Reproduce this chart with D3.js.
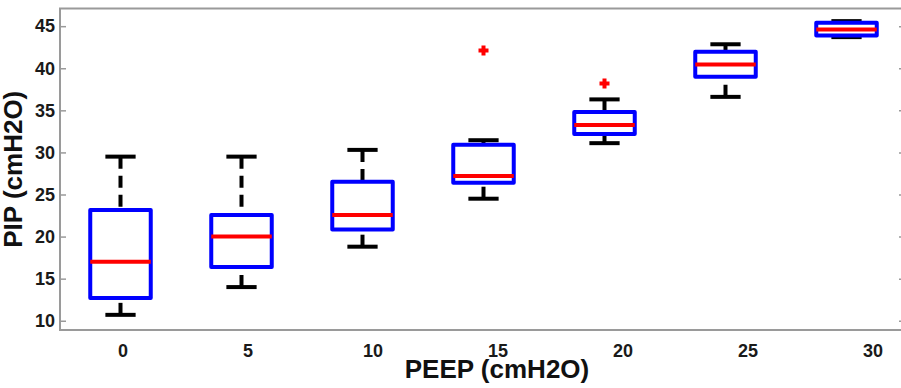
<!DOCTYPE html>
<html>
<head>
<meta charset="utf-8">
<script src="https://cdn.jsdelivr.net/npm/d3@7"></script>
<style>
  html, body { margin: 0; padding: 0; background: #fff; }
  svg { display: block; font-family: "Liberation Sans", Arial, Helvetica, sans-serif; }
</style>
</head>
<body>
<svg id="chart"></svg>
<script>
// PIP boxplots per PEEP level
const peep = [0, 5, 10, 15, 20, 25, 30];
const whiskerLow = [10.7, 14.0, 18.8, 24.5, 31.1, 36.6, 43.7];
const q1 = [12.7, 16.4, 20.85, 26.4, 32.2, 39.0, 43.9];
const median = [17.0, 20.0, 22.55, 27.2, 33.25, 40.45, 44.6];
const q3 = [23.15, 22.55, 26.5, 30.9, 34.8, 41.95, 45.4];
const whiskerHigh = [29.5, 29.5, 30.3, 31.45, 36.3, 42.85, 45.6];
const outlierPeep = [15, 20];
const outlierValue = [42.1, 38.2];
const yTicks = [10, 15, 20, 25, 30, 35, 40, 45];

const chartDimensions = () => {
  let dimensions = {
    svgWidth: 901,
    svgHeight: 388,
    margin: {top: 8.5, left: 60, bottom: 58, right: -6}
  };
  dimensions.width = dimensions.svgWidth - dimensions.margin.left - dimensions.margin.right;
  dimensions.height = dimensions.svgHeight - dimensions.margin.top - dimensions.margin.bottom;
  return dimensions;
}
const dim = chartDimensions();

const boxes = peep.map((p, i) => ({
  peep: p, lo: whiskerLow[i], q1: q1[i], med: median[i], q3: q3[i], hi: whiskerHigh[i]
}));

const svg = d3.select("#chart")
  .attr("width", dim.svgWidth)
  .attr("height", dim.svgHeight);

const x = d3.scaleBand()
  .domain(peep)
  .range([0, dim.width])
  .paddingInner(0.5)
  .paddingOuter(0.25);

// the category labels sit on their own slightly wider spacing in the figure
const xLabel = d3.scalePoint()
  .domain(peep)
  .range([63, 813]);

const y = d3.scaleLinear()
  .domain([8.9, 47.1])
  .range([dim.height, 0]);

const g = svg.append("g")
  .attr("transform", `translate(${dim.margin.left}, ${dim.margin.top})`);

// frame
g.append("rect")
  .attr("width", dim.width)
  .attr("height", dim.height)
  .attr("fill", "none")
  .attr("stroke", "#9a9a9a")
  .attr("stroke-width", 2);

// y axis left, ticks inward
const yAxis = g.append("g")
  .call(d3.axisRight(y).tickValues(yTicks).tickSize(6).tickFormat(""));
yAxis.select(".domain").remove();
yAxis.selectAll("line").attr("stroke", "#9a9a9a").attr("stroke-width", 1.5);

yAxis.selectAll(".ytl")
  .data(yTicks)
  .join("text")
  .attr("class", "ytl")
  .attr("x", -5)
  .attr("y", d => y(d))
  .attr("dy", "0.35em")
  .attr("text-anchor", "end")
  .attr("font-size", 18)
  .attr("font-weight", "bold")
  .attr("fill", "#1a1a1a")
  .text(d => d);

// right side ticks
const yAxisR = g.append("g")
  .attr("transform", `translate(${dim.width}, 0)`)
  .call(d3.axisLeft(y).tickValues(yTicks).tickSize(8).tickFormat(""));
yAxisR.select(".domain").remove();
yAxisR.selectAll("line").attr("stroke", "#9a9a9a").attr("stroke-width", 1.5);

// x labels (no ticks, boxplot style)
g.append("g").selectAll("text")
  .data(peep)
  .join("text")
  .attr("x", d => xLabel(d))
  .attr("y", dim.height + 27)
  .attr("text-anchor", "middle")
  .attr("font-size", 18)
  .attr("font-weight", "bold")
  .attr("fill", "#1a1a1a")
  .text(d => d);

const cx = d => x(d.peep) + x.bandwidth() / 2;
const capW = x.bandwidth() / 4;

const bg = g.append("g");

// whiskers
bg.selectAll(".wUp")
  .data(boxes)
  .join("line")
  .attr("class", "wUp")
  .attr("x1", cx).attr("x2", cx)
  .attr("y1", d => y(d.hi)).attr("y2", d => y(d.q3))
  .attr("stroke", "#000")
  .attr("stroke-width", 4)
  .attr("stroke-dasharray", "12,7");

bg.selectAll(".wLo")
  .data(boxes)
  .join("line")
  .attr("class", "wLo")
  .attr("x1", cx).attr("x2", cx)
  .attr("y1", d => y(d.lo)).attr("y2", d => y(d.q1))
  .attr("stroke", "#000")
  .attr("stroke-width", 4)
  .attr("stroke-dasharray", "12,7");

// caps
bg.selectAll(".cap")
  .data(boxes.flatMap(d => [{b: d, v: d.hi}, {b: d, v: d.lo}]))
  .join("line")
  .attr("class", "cap")
  .attr("x1", d => cx(d.b) - capW).attr("x2", d => cx(d.b) + capW)
  .attr("y1", d => y(d.v)).attr("y2", d => y(d.v))
  .attr("stroke", "#000")
  .attr("stroke-width", 4);

// boxes
bg.selectAll(".box")
  .data(boxes)
  .join("rect")
  .attr("class", "box")
  .attr("x", d => x(d.peep))
  .attr("width", x.bandwidth())
  .attr("y", d => y(d.q3))
  .attr("height", d => y(d.q1) - y(d.q3))
  .attr("fill", "none")
  .attr("stroke", "#0000ff")
  .attr("stroke-width", 4)
  .attr("stroke-linejoin", "round");

// medians
bg.selectAll(".med")
  .data(boxes)
  .join("line")
  .attr("class", "med")
  .attr("x1", d => x(d.peep)).attr("x2", d => x(d.peep) + x.bandwidth())
  .attr("y1", d => y(d.med)).attr("y2", d => y(d.med))
  .attr("stroke", "#ff0000")
  .attr("stroke-width", 4);

// outliers as '+'
bg.selectAll(".out")
  .data(outlierPeep.map((p, i) => ({peep: p, v: outlierValue[i]})))
  .join("path")
  .attr("class", "out")
  .attr("transform", d => `translate(${cx(d)}, ${y(d.v)})`)
  .attr("d", "M-5,0H5M0,-5V5")
  .attr("fill", "none")
  .attr("stroke", "#ff0000")
  .attr("stroke-width", 4);

// axis titles
svg.append("text")
  .attr("x", 497)
  .attr("y", 378)
  .attr("text-anchor", "middle")
  .attr("font-size", 26)
  .attr("font-weight", "bold")
  .attr("fill", "#111")
  .text("PEEP (cmH2O)");

svg.append("text")
  .attr("transform", `translate(22, ${dim.margin.top + dim.height / 2}) rotate(-90)`)
  .attr("text-anchor", "middle")
  .attr("font-size", 26)
  .attr("font-weight", "bold")
  .attr("fill", "#111")
  .text("PIP (cmH2O)");

// title, mostly cropped off the top of the figure
svg.append("text")
  .attr("x", 592)
  .attr("y", -6)
  .attr("text-anchor", "end")
  .attr("font-size", 26)
  .attr("font-weight", "bold")
  .attr("fill", "#111")
  .text("PIP (cmH2O)");
</script>
</body>
</html>
